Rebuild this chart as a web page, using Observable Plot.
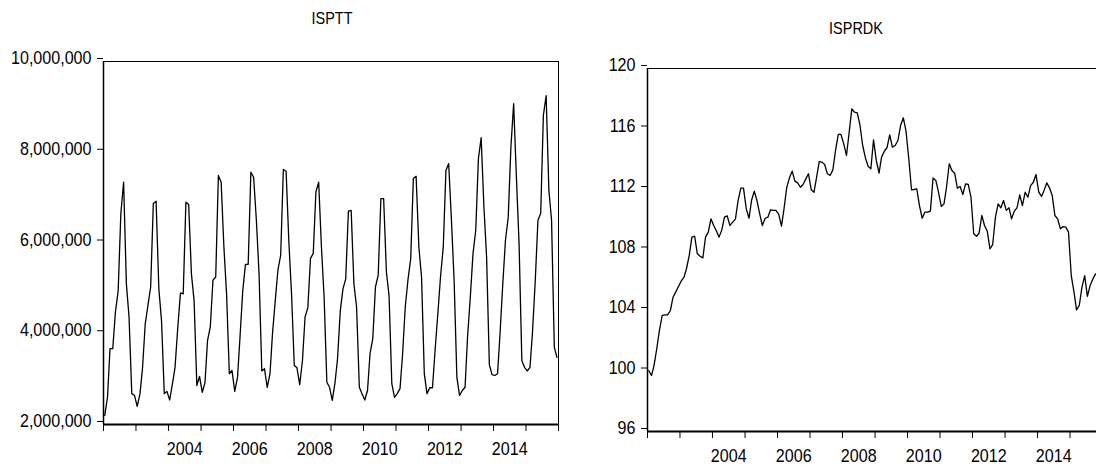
<!DOCTYPE html>
<html><head><meta charset="utf-8">
<script src="https://cdn.jsdelivr.net/npm/d3@7"></script>
<script src="https://cdn.jsdelivr.net/npm/@observablehq/plot@0.6"></script>
<style>
html,body{margin:0;padding:0;background:#fff;}
#wrap{position:relative;width:1096px;height:470px;overflow:hidden;background:#fff;font-family:"Liberation Sans",Arial,sans-serif;}
.panel{position:absolute;top:0;}
.title{position:absolute;font-size:17px;color:#000;transform:translateX(-50%) scaleX(0.85);white-space:nowrap;line-height:1;}
</style></head><body>
<div id="wrap">
<div class="title" style="left:332px;top:10px">ISPTT</div>
<div class="title" style="left:856px;top:20px">ISPRDK</div>
<div id="p1" class="panel" style="left:0;width:600px;height:470px"></div>
<div id="p2" class="panel" style="left:560px;width:560px;height:470px"></div>
</div>
<script>
// Monthly series starting January 2002
const startYear = 2002;
const seriesNames = ["ISPTT", "ISPRDK"];
// ISPTT, in millions
const ispttMillions = [
  2.20, 2.60, 3.67, 3.67, 4.48, 4.95, 6.65, 7.34, 5.10, 4.37, 2.68, 2.64,
  2.40, 2.68, 3.23, 4.22, 4.62, 5.03, 6.87, 6.92, 4.99, 4.29, 2.68, 2.73,
  2.54, 2.90, 3.26, 4.15, 4.90, 4.88, 6.90, 6.85, 5.32, 4.73, 2.86, 3.06,
  2.71, 2.93, 3.85, 4.15, 5.18, 5.25, 7.49, 7.34, 5.91, 4.88, 3.12, 3.19,
  2.73, 3.04, 3.93, 4.95, 5.53, 5.53, 7.56, 7.45, 6.50, 5.32, 3.18, 3.23,
  2.82, 3.12, 4.00, 4.73, 5.40, 5.73, 7.62, 7.58, 6.02, 4.88, 3.30, 3.25,
  2.88, 3.41, 4.37, 4.57, 5.66, 5.77, 7.13, 7.34, 5.91, 4.81, 2.93, 2.82,
  2.53, 2.93, 3.45, 4.51, 4.99, 5.21, 6.70, 6.72, 5.10, 4.59, 2.82, 2.68,
  2.54, 2.75, 3.56, 3.89, 5.03, 5.29, 6.98, 6.98, 5.36, 4.84, 2.90, 2.60,
  2.68, 2.79, 3.52, 4.59, 5.18, 5.65, 7.42, 7.47, 5.91, 5.25, 3.12, 2.68,
  2.81, 2.81, 3.63, 4.44, 5.25, 5.91, 7.60, 7.75, 6.50, 5.18, 3.04, 2.64,
  2.75, 2.82, 3.93, 4.81, 5.76, 6.28, 7.86, 8.32, 6.79, 5.69, 3.32, 3.10,
  3.08, 3.12, 4.00, 5.10, 6.06, 6.57, 8.11, 9.07, 7.45, 5.98, 3.41, 3.26,
  3.18, 3.26, 4.04, 5.18, 6.50, 6.65, 8.81, 9.25, 7.16, 6.50, 3.70, 3.48
];
// ISPRDK index
const isprdk = [
  100.03, 99.70, 100.36, 101.47, 102.68, 103.67, 103.71, 103.71, 104.00, 104.88, 105.23, 105.59,
  105.94, 106.20, 106.76, 107.64, 108.85, 108.91, 107.75, 107.59, 107.48, 108.85, 109.18, 110.06,
  109.62, 109.25, 108.85, 109.33, 110.17, 110.26, 109.62, 109.84, 110.04, 111.27, 112.09, 112.09,
  110.72, 110.10, 111.27, 111.89, 111.27, 110.39, 109.62, 110.10, 110.17, 110.66, 110.62, 110.62,
  110.35, 109.58, 110.72, 112.15, 112.77, 113.21, 112.55, 112.44, 112.15, 112.33, 112.70, 113.04,
  111.98, 111.82, 112.77, 113.85, 113.81, 113.65, 113.04, 112.93, 113.30, 114.58, 115.64, 115.64,
  115.02, 114.25, 115.72, 117.33, 117.11, 117.07, 116.28, 114.91, 114.09, 113.54, 113.37, 115.28,
  113.92, 113.08, 114.14, 114.53, 114.76, 115.61, 114.80, 114.91, 115.24, 116.23, 116.74, 115.86,
  114.03, 111.98, 112.00, 112.04, 110.94, 110.10, 110.50, 110.50, 110.57, 112.77, 112.60, 111.82,
  110.88, 111.05, 112.15, 113.70, 113.26, 113.08, 112.09, 112.20, 111.67, 112.37, 112.33, 111.49,
  109.07, 108.91, 109.11, 110.28, 109.62, 109.25, 108.08, 108.36, 110.17, 111.05, 110.79, 111.27,
  110.62, 110.79, 110.06, 110.57, 110.79, 111.65, 110.94, 111.82, 111.49, 112.26, 112.48, 112.99,
  111.82, 111.54, 111.93, 112.44, 112.11, 111.60, 110.28, 110.06, 109.40, 109.55, 109.51, 109.18,
  106.31, 105.21, 104.04, 104.33, 105.54, 106.31, 104.93, 105.65, 106.09, 106.42
];
const leftYTicks = [2000000, 4000000, 6000000, 8000000, 10000000];
const rightYTicks = [96, 100, 104, 108, 112, 116, 120];
const tickYears = [2002, 2003, 2004, 2005, 2006, 2007, 2008, 2009, 2010, 2011, 2012, 2013, 2014, 2015, 2016];
const labelYears = [2004, 2006, 2008, 2010, 2012, 2014];

const monthDate = i => new Date(Date.UTC(startYear, i, 15));
const leftData = ispttMillions.map((v, i) => ({date: monthDate(i), value: v * 1e6}));
const rightData = isprdk.map((v, i) => ({date: monthDate(i), value: v}));
const xDomain = [new Date(Date.UTC(2002, 0, 1)), new Date(Date.UTC(2016, 0, 1))];
const tickDates = tickYears.map(y => new Date(Date.UTC(y, 0, 1)));
const labelDates = labelYears.map(y => new Date(Date.UTC(y, 6, 2)));

const font = '"Liberation Sans", Arial, sans-serif';

function panel(data, yDomain, yTicks, yFormat, dims) {
  return Plot.plot({
    width: dims.width, height: 470,
    marginLeft: dims.ml, marginRight: dims.mr, marginTop: dims.mt, marginBottom: dims.mb,
    style: {fontFamily: font, fontSize: "17.5px", color: "#000", background: "transparent", maxWidth: "none", overflow: "visible"},
    x: {type: "utc", domain: xDomain, label: null},
    y: {domain: yDomain, label: null},
    marks: [
      Plot.frame({stroke: "#000", strokeWidth: 1}),
      Plot.ruleY([yDomain[0]], {stroke: "#000", strokeWidth: 2}),
      Plot.ruleX([xDomain[0]], {stroke: "#000", strokeWidth: 1.5}),
      Plot.axisX(tickDates, {tickSize: 7, tickFormat: () => "", stroke: "#000", label: null}),
      Plot.axisX(labelDates, {tickSize: 0, tickPadding: 18, tickFormat: d => String(d.getUTCFullYear()), label: null}),
      Plot.axisY(yTicks, {tickSize: 6, tickPadding: 6, tickFormat: yFormat, dy: -3, stroke: "#000", label: null}),
      Plot.lineY(data, {x: "date", y: "value", stroke: "#000", strokeWidth: 1.3})
    ]
  });
}

function condense(svg) {
  svg.querySelectorAll('g[aria-label$="tick label"] text').forEach(t => {
    const tr = t.getAttribute("transform") || "";
    t.setAttribute("transform", tr + " scale(0.92,1)");
  });
  return svg;
}

const p1 = panel(leftData, [2000000, 10000000], leftYTicks, d3.format(","), {width: 600, ml: 103, mr: 42, mt: 61, mb: 46});
const p2 = panel(rightData, [96, 120], rightYTicks, d => String(d), {width: 560, ml: 87, mr: 18, mt: 68, mb: 39});
document.getElementById("p1").appendChild(condense(p1));
document.getElementById("p2").appendChild(condense(p2));
</script>
</body></html>
